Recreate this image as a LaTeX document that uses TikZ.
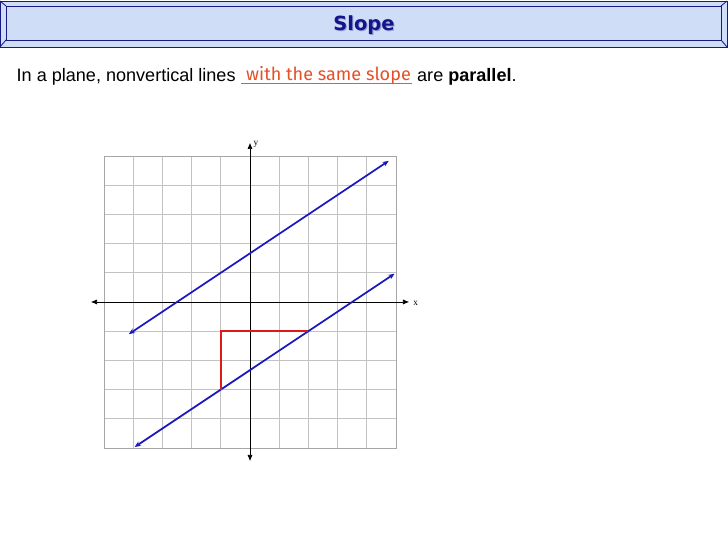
\documentclass[tikz,border=0pt]{standalone}
\usepackage{fontspec}
\setmainfont{Liberation Sans}
\newfontfamily\handfont{Fira Sans}
\newfontfamily\labelfont{Liberation Serif}
\newfontfamily\titlefont{DejaVu Sans}
\usetikzlibrary{arrows.meta}
\definecolor{barfill}{RGB}{208,221,246}
\definecolor{barline}{RGB}{25,25,130}
\definecolor{titleblue}{RGB}{20,20,140}
\definecolor{titleshade}{RGB}{150,160,205}
\definecolor{lineblue}{RGB}{25,25,190}
\definecolor{legred}{RGB}{222,25,25}
\definecolor{noteorange}{RGB}{228,80,40}
\definecolor{gridgray}{RGB}{195,195,195}
\begin{document}
\begin{tikzpicture}[
    gridline/.style={gridgray,line width=0.6pt},
    axisline/.style={black,line width=0.7pt,{Latex[length=6pt,width=5pt]}-{Latex[length=6pt,width=5pt]}},
    parline/.style={lineblue,line width=1.7pt,{Stealth[length=6pt,width=5pt]}-{Stealth[length=6pt,width=5pt]}},
    legline/.style={legred,line width=1.7pt},
    axislabel/.style={font=\labelfont\fontsize{9}{10}\selectfont,inner sep=1pt},
    plain/.style={anchor=base west,inner sep=0pt,font=\fontsize{17.6}{20}\selectfont}]
        \useasboundingbox (-8.562,-8.356) rectangle (16.370,10.342);
        \fill[white] (-8.562,-8.356) rectangle (16.370,10.342);
        % title bar
        \fill[barfill] (-8.562,10.308) rectangle (16.336,8.733);
        \draw[barline,line width=0.8pt] (-8.562,10.308) rectangle (16.336,8.733);
        \draw[barline,line width=0.8pt] (-8.356,10.137) rectangle (16.130,8.973);
        \draw[barline,line width=0.8pt] (-8.562,10.308) -- (-8.356,10.137);
        \draw[barline,line width=0.8pt] (16.336,10.308) -- (16.130,10.137);
        \draw[barline,line width=0.8pt] (-8.562,8.733) -- (-8.356,8.973);
        \draw[barline,line width=0.8pt] (16.336,8.733) -- (16.130,8.973);
        \node[anchor=base,inner sep=0pt,titleshade,font=\titlefont\bfseries\fontsize{19}{22}\selectfont] at (3.94,9.25) {Slope};
        \node[anchor=base,inner sep=0pt,titleblue,font=\titlefont\bfseries\fontsize{19}{22}\selectfont] (title) at (3.904,9.288) {Slope};
        % statement
        \node[plain] (lead) at (-7.997,7.544) {In a plane, nonvertical lines};
        \draw[gray,line width=0.8pt] (-0.308,7.50) -- (5.548,7.50);
        \node[plain,noteorange,font=\handfont\fontsize{17.6}{20}\selectfont] (blank) at (-0.137,7.60) {with the same slope};
        \node[plain] (tail) at (5.719,7.544) {are \textbf{parallel}.};
        % grid and axes
        \draw[gridline] (-5,-5) grid (5,5);
        \draw[gridgray!85!black,line width=0.9pt] (-5,-5) rectangle (5,5);
        \coordinate (xl) at (-5.45,0);
        \coordinate (xr) at (5.45,0);
        \coordinate (yb) at (0,-5.45);
        \coordinate (yt) at (0,5.45);
        \draw[axisline] (xl) -- (xr);
        \draw[axisline] (yb) -- (yt);
        \node[axislabel,anchor=west] (xlab) at (5.55,-0.05) {x};
        \node[axislabel,anchor=west] (ylab) at (0.08,5.4) {y};
        % parallel lines
        \coordinate (ua) at (-4.15,-1.100);
        \coordinate (ub) at (4.75,4.833);
        \coordinate (la) at (-3.95,-4.967);
        \coordinate (lb) at (4.95,0.967);
        \draw[parline] (ua) -- (ub);
        \draw[parline] (la) -- (lb);
        % rise and run
        \coordinate (p) at (-1,-3);
        \coordinate (c) at (-1,-1);
        \coordinate (q) at (2,-1);
        \draw[legline] (p) -- (c) -- (q);
\end{tikzpicture}
\end{document}
